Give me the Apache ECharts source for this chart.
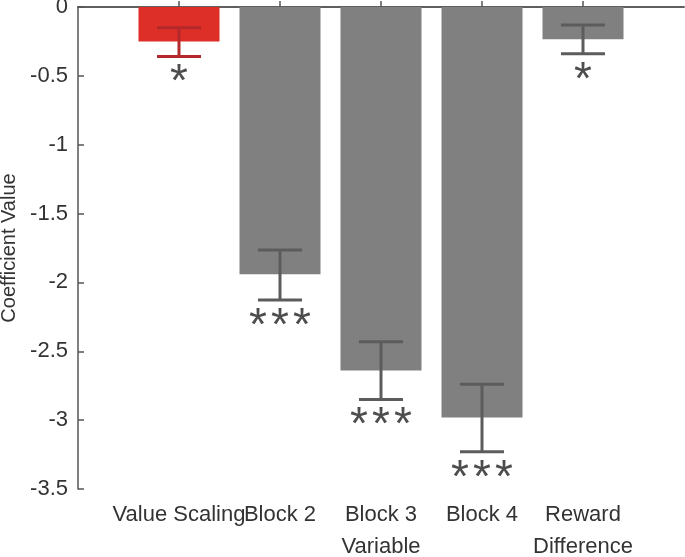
<!DOCTYPE html>
<html><head><meta charset="utf-8">
<script src="https://cdn.jsdelivr.net/npm/echarts@6/dist/echarts.min.js"></script>
<style>html,body{margin:0;padding:0;background:#fff}#c{width:685px;height:557px}</style>
</head><body><div id="c"></div>
<script>
const categories = ['Value Scaling', 'Block 2', 'Block 3\nVariable', 'Block 4', 'Reward\nDifference'];
const coefficients = [-0.25, -1.94, -2.64, -2.98, -0.235];
const errHigh = [-0.15, -1.765, -2.43, -2.74, -0.13];
const errLow = [-0.36, -2.128, -2.85, -3.23, -0.34];
const stars = ['*', '***', '***', '***', '*'];
const yTicks = [0, -0.5, -1, -1.5, -2, -2.5, -3, -3.5];

const barColors = ['#dd2e27', '#808080', '#808080', '#808080', '#808080'];
const errColors = ['#b2282b', '#5c5c5c', '#5c5c5c', '#5c5c5c', '#5c5c5c'];

const xData = [''].concat(categories).concat(['']);
const barData = ['-'].concat(coefficients.map((v, i) => ({value: v, itemStyle: {color: barColors[i]}}))).concat(['-']);
const errData = categories.map((c, i) => [i + 1, coefficients[i], errHigh[i], errLow[i], i]);

const FONT = 'Liberation Sans';
const chart = echarts.init(document.getElementById('c'), null, {renderer: 'canvas'});
chart.setOption({
  animation: false,
  textStyle: {fontFamily: FONT},
  grid: {left: 78, top: 7, width: 606, height: 482, containLabel: false, outerBoundsMode: 'none'},
  xAxis: [{
    type: 'category', data: xData, boundaryGap: false,
    axisLine: {lineStyle: {color: '#555', width: 1.5}},
    axisTick: {inside: true, length: 6, lineStyle: {color: '#555', width: 1.5},
      interval: (i) => i > 0 && i < xData.length - 1},
    axisLabel: {interval: 0, color: '#333', fontSize: 22, fontFamily: FONT, margin: 10, lineHeight: 32},
    splitLine: {show: false}
  }, {
    type: 'category', data: xData, boundaryGap: false, position: 'top',
    axisLine: {show: true, lineStyle: {color: '#555', width: 1.5}},
    axisTick: {show: false}, axisLabel: {show: false}, splitLine: {show: false}
  }],
  yAxis: {
    type: 'value', min: -3.5, max: 0, interval: 0.5,
    name: 'Coefficient Value', nameLocation: 'middle', nameGap: 59,
    nameTextStyle: {color: '#333', fontSize: 20, fontFamily: FONT},
    axisLine: {show: true, lineStyle: {color: '#555', width: 1.5}},
    axisTick: {show: true, inside: true, length: 6, lineStyle: {color: '#555', width: 1.5}},
    axisLabel: {color: '#333', fontSize: 22, fontFamily: FONT, margin: 10,
      formatter: (v) => String(Math.round(v * 10) / 10)},
    splitLine: {show: false}
  },
  series: [
    {type: 'bar', data: barData, barWidth: 81, z: 2},
    {type: 'custom', data: errData, z: 5,
      renderItem: function (params, api) {
        const x = api.value(0);
        const i = api.value(4);
        const pHi = api.coord([x, api.value(2)]);
        const pLo = api.coord([x, api.value(3)]);
        const half = 22;
        const col = errColors[i];
        const ls = {stroke: col, lineWidth: 3};
        const children = [
          {type: 'line', shape: {x1: pHi[0], y1: pHi[1], x2: pLo[0], y2: pLo[1]}, style: ls},
          {type: 'line', shape: {x1: pHi[0] - half, y1: pHi[1], x2: pHi[0] + half, y2: pHi[1]}, style: ls},
          {type: 'line', shape: {x1: pLo[0] - half, y1: pLo[1], x2: pLo[0] + half, y2: pLo[1]}, style: ls}
        ];
        const n = stars[i].length;
        for (let k = 0; k < n; k++) {
          children.push({type: 'text', x: pLo[0] + (k - (n - 1) / 2) * 22, y: pLo[1] + 4,
            style: {text: '*', fill: '#4d4d4d', font: '46px "' + FONT + '"', align: 'center', verticalAlign: 'top'}});
        }
        return {type: 'group', children: children};
      }
    }
  ]
});
</script></body></html>
